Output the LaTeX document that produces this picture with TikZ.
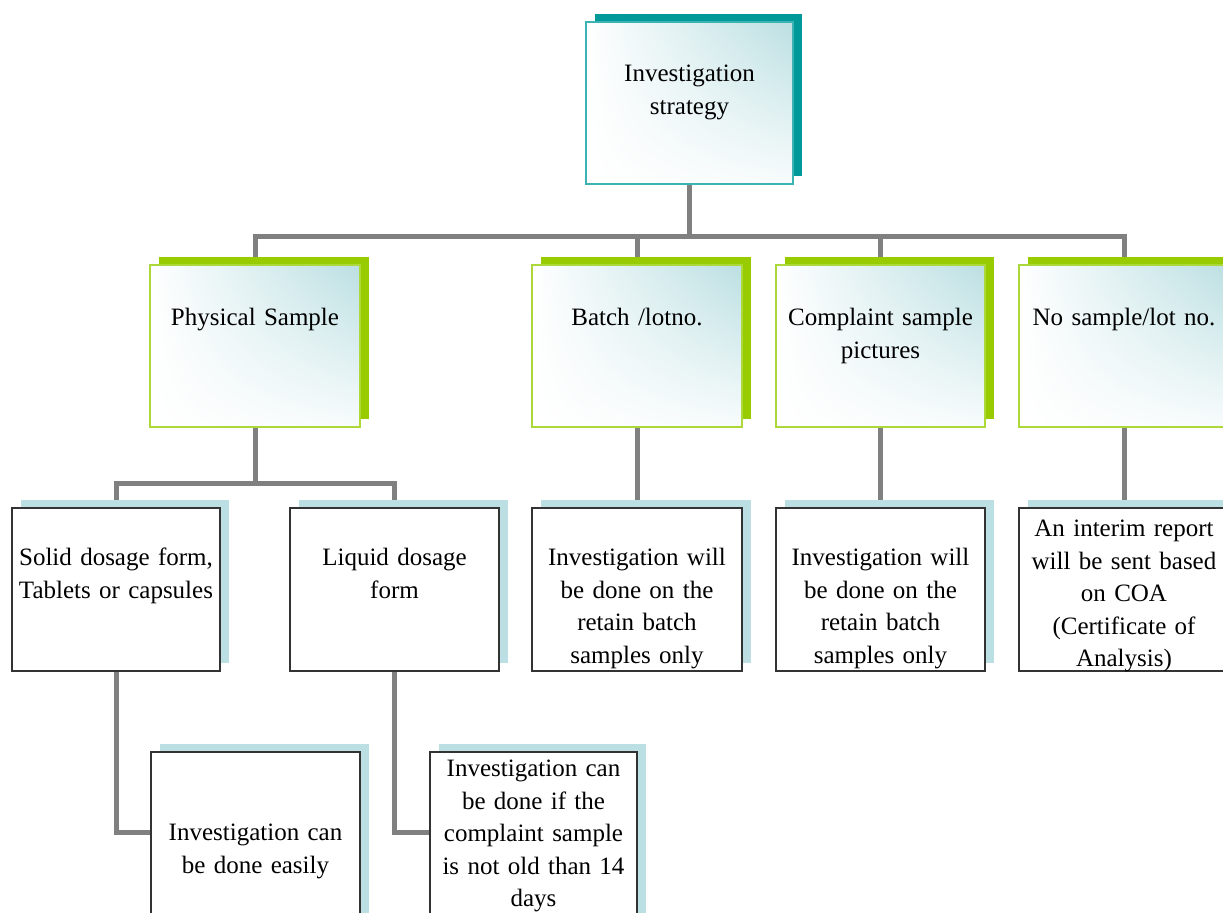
\documentclass[tikz,border=0pt]{standalone}
\usepackage{fontspec}
\setmainfont{Liberation Serif}
\usetikzlibrary{shadows,shadings,backgrounds}
\definecolor{tealdark}{HTML}{009999}
\definecolor{tealline}{HTML}{3CB3B3}
\definecolor{tealpale}{HTML}{BBDFE2}
\definecolor{limegreen}{HTML}{99CC00}
\definecolor{limeline}{HTML}{ADD83A}
\definecolor{linkgray}{HTML}{808080}

\begin{document}
\begin{tikzpicture}[x=0.5pt,y=-0.5pt,
    every node/.style={inner sep=0pt, outer sep=0pt, anchor=north, align=center,
        font=\fontsize{12.5}{16.2}\selectfont, text=black},
    hd/.style 2 args={text height=#1pt, text depth=#2pt},
    topbox/.style={draw=tealline, line width=0.8pt, text width=#1,
        shade, upper left=white, upper right=tealpale, lower left=white, lower right=white!90!tealpale,
        drop shadow={fill=tealdark, opacity=1, shadow xshift=4.5pt, shadow yshift=4pt}},
    topic/.style={topbox=#1, draw=limeline,
        drop shadow={fill=limegreen, opacity=1, shadow xshift=4.5pt, shadow yshift=4pt}},
    leaf/.style={draw=black!80, line width=0.8pt, text width=#1, fill=white,
        drop shadow={fill=tealpale, opacity=1, shadow xshift=4.5pt, shadow yshift=4pt}},
    link/.style={draw=linkgray, line width=2.5pt}]
    \useasboundingbox (0,0) rectangle (1223,913);
    \clip (0,0) rectangle (1223,913);

    \node[topbox=103.5pt, hd={30}{51}]   (root)   at (689.5,22)  {Investigation\\strategy};

    \node[topic=105pt, hd={30.5}{50.5}]  (phys)   at (255,265)   {Physical Sample};
    \node[topic=105pt, hd={30.5}{50.5}]  (batch)  at (637,265)   {Batch /lotno.};
    \node[topic=104.5pt, hd={30.5}{50.5}](compl)  at (880.5,265) {Complaint sample\\pictures};
    \node[topic=105pt, hd={30.5}{50.5}]  (nosmp)  at (1124,265)  {No sample/lot no.};

    \node[leaf=104pt, hd={29}{52.5}]     (solid)  at (116,508)   {Solid dosage form,\\Tablets or capsules};
    \node[leaf=104.5pt, hd={29}{52.5}]   (liquid) at (394.5,508) {Liquid dosage\\form};
    \node[leaf=105pt, hd={29}{52.5}]     (batchc) at (637,508)   {Investigation will\\be done on the\\retain batch\\samples only};
    \node[leaf=104.5pt, hd={29}{52.5}]   (complc) at (880.5,508) {Investigation will\\be done on the\\retain batch\\samples only};
    \node[leaf=105pt, hd={14.5}{67}]     (nosmpc) at (1124,508)  {An interim report\\will be sent based\\on COA\\(Certificate of\\Analysis)};

    \node[leaf=104.5pt, hd={44.5}{40}]   (easy)   at (255.5,752) {Investigation can\\be done easily};
    \node[leaf=103.5pt, hd={12.5}{72}]   (liqc)   at (533.5,752) {Investigation can\\be done if the\\complaint sample\\is not old than 14\\days};

    \begin{scope}[on background layer]
    \path[link]
    (root.south) -- ++(0,53) -| (phys.north)
    (root.south) -- ++(0,53) -| (batch.north)
    (root.south) -- ++(0,53) -| (compl.north)
    (root.south) -- ++(0,53) -| (nosmp.north);
    \path[link]
    (phys.south) -- ++(0,57) -| (solid.north)
    (phys.south) -- ++(0,57) -| (liquid.north)
    (batch) -- (batchc)
    (compl) -- (complc)
    (nosmp) -- (nosmpc);
    \path[link]
    (solid.south) |- ([yshift=2pt]easy.west)
    (liquid.south) |- ([yshift=2pt]liqc.west);
    \end{scope}
  \end{tikzpicture}
\end{document}
